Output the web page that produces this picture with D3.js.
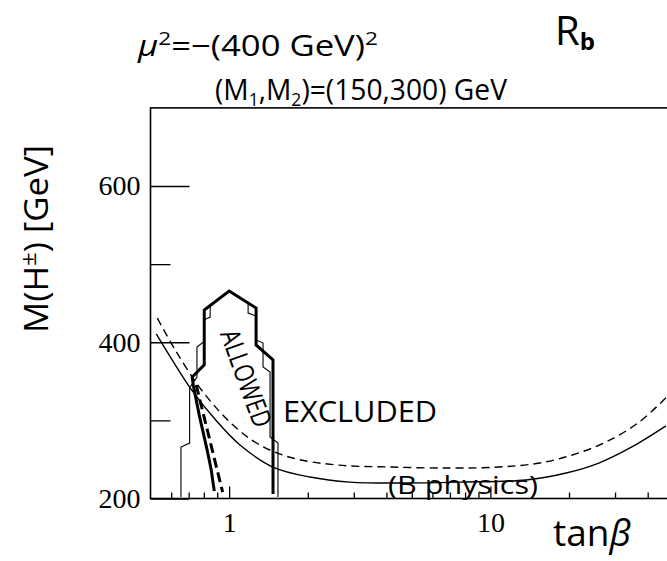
<!DOCTYPE html>
<html>
<head>
<meta charset="utf-8">
<script src="https://cdn.jsdelivr.net/npm/d3@7"></script>
<style>
  html, body { margin: 0; padding: 0; background: #fff; }
  svg { display: block; }
  .sans { font-family: "Open Sans", "DejaVu Sans", sans-serif; font-weight: 400; }
  .serif { font-family: "Liberation Serif", "Times New Roman", serif; }
</style>
</head>
<body>
<svg id="chart" width="667" height="561"></svg>
<script>
// Axis ticks
const xMajorTicks = [1, 10];
const xMinorTicks = [0.6, 0.7, 0.8, 0.9, 2, 3, 4, 5, 6, 7, 8, 9, 20, 30, 40];
const yMajorTicks = [200, 400, 600];
const yMinorTicks = [300, 500];

// B-physics bound, solid curve: [tanβ, M(H±)]
const bPhysicsSolid = [
  [0.526, 410.6], [0.606, 377], [0.71, 341.4], [0.90, 298.3], [1.10, 268.5],
  [1.47, 240.3], [2.04, 227.5], [2.9, 221], [4.5, 219.8], [7.6, 221],
  [13.7, 223.7], [19.5, 232.6], [26, 245.4], [34.8, 266], [47, 293]
];

// B-physics bound, dashed curve: [tanβ, M(H±)]
const bPhysicsDashed = [
  [0.531, 431], [0.622, 390], [0.796, 336], [1.035, 294], [1.31, 268.5],
  [1.75, 251.8], [2.58, 242.9], [4.1, 240.3], [7.0, 239], [10.8, 240.3],
  [15.4, 245.4], [20.6, 255.7], [27.7, 272.3], [37, 297.5], [47, 329]
];

// Rb contour, thick solid boundary
const rbThick = [
  [0.877, 209.6], [0.854, 236.5], [0.824, 262], [0.768, 307], [0.729, 345],
  [0.722, 355.5], [0.803, 371], [0.803, 441.3], [1.0, 465.6], [1.268, 443.8],
  [1.268, 396.5], [1.472, 377.3], [1.472, 205.8]
];

// Rb contour, thick dashed boundary
const rbThickDashed = [[0.748, 345.3], [0.944, 208.3]];

// Rb contour, thin stepped boundary
const rbThin = [
  [0.654, 202], [0.654, 265.9], [0.706, 271], [0.706, 341.4], [0.753, 355.5],
  [0.753, 394], [0.798, 400.3], [0.798, 428.5], [0.846, 432.3], [0.846, 447.2],
  [1.0, 465.6], [1.182, 450.2], [1.182, 437.4], [1.268, 433.6], [1.268, 402.9],
  [1.348, 399], [1.348, 368.3], [1.434, 361.9], [1.434, 278.7], [1.538, 271],
  [1.538, 202]
];

const svg = d3.select("#chart");

const x = d3.scaleLog().domain([0.5, 50]).range([150.5, 673]);
const y = d3.scaleLinear().domain([200, 700]).range([498.5, 107.9]);

const line = d3.line().x(d => x(d[0])).y(d => y(d[1]));
const smooth = d3.line().x(d => x(d[0])).y(d => y(d[1])).curve(d3.curveCatmullRom.alpha(0.5));

// Curves
svg.append("path").datum(bPhysicsSolid).attr("d", smooth)
  .attr("fill", "none").attr("stroke", "#000").attr("stroke-width", 1.4);
svg.append("path").datum(bPhysicsDashed).attr("d", smooth)
  .attr("fill", "none").attr("stroke", "#000").attr("stroke-width", 1.4)
  .attr("stroke-dasharray", "8,5");

svg.append("path").datum(rbThin).attr("d", line)
  .attr("fill", "none").attr("stroke", "#000").attr("stroke-width", 1.1);
svg.append("path").datum(rbThick).attr("d", line)
  .attr("fill", "none").attr("stroke", "#000").attr("stroke-width", 3)
  .attr("stroke-linejoin", "miter");
svg.append("path").datum(rbThickDashed).attr("d", line)
  .attr("fill", "none").attr("stroke", "#000").attr("stroke-width", 3)
  .attr("stroke-dasharray", "10,5");

// Frame
const [x0, x1] = x.range();
const [yb, yt] = y.range();
svg.append("rect").attr("x", x0).attr("y", yt).attr("width", x1 - x0).attr("height", yb - yt)
  .attr("fill", "none").attr("stroke", "#000").attr("stroke-width", 1.6);

// Axes (ticks point into the frame)
const xAxisMajor = d3.axisBottom(x).tickValues(xMajorTicks)
  .tickFormat(d3.format("d")).tickSizeInner(-12).tickSizeOuter(0).tickPadding(14);
const xAxisMinor = d3.axisBottom(x).tickValues(xMinorTicks)
  .tickFormat("").tickSizeInner(-6).tickSizeOuter(0);
const yAxisMajor = d3.axisLeft(y).tickValues(yMajorTicks)
  .tickFormat(d3.format("d")).tickSizeInner(-39).tickSizeOuter(0).tickPadding(10);
const yAxisMinor = d3.axisLeft(y).tickValues(yMinorTicks)
  .tickFormat("").tickSizeInner(-20).tickSizeOuter(0);

function styleAxis(g) {
  g.select(".domain").remove();
  g.selectAll("line").attr("stroke", "#000").attr("stroke-width", 1.3);
  g.selectAll("text").attr("class", "serif").attr("font-size", 28).attr("fill", "#000");
}
svg.append("g").attr("transform", `translate(0,${yb})`).call(xAxisMajor).call(styleAxis)
  .selectAll("text").attr("dy", "0.71em");
svg.append("g").attr("transform", `translate(0,${yb})`).call(xAxisMinor).call(styleAxis);
svg.append("g").attr("transform", `translate(${x0},0)`).call(yAxisMajor).call(styleAxis);
svg.append("g").attr("transform", `translate(${x0},0)`).call(yAxisMinor).call(styleAxis);

// Axis titles
const yTitle = svg.append("text").attr("class", "sans")
  .attr("transform", "translate(48,239) rotate(-90)")
  .attr("text-anchor", "middle").attr("font-size", 32)
  .attr("textLength", 188).attr("lengthAdjust", "spacingAndGlyphs").attr("fill", "#000");
yTitle.append("tspan").text("M(H");
yTitle.append("tspan").attr("font-size", 22).attr("dy", -12).text("±");
yTitle.append("tspan").attr("dy", 12).text(") [GeV]");

const tb = svg.append("text").attr("class", "sans").attr("x", 553).attr("y", 546)
  .attr("font-size", 37).attr("fill", "#000");
tb.append("tspan").text("tan");
tb.append("tspan").attr("font-style", "italic").text("β");

// Header lines
const mu = svg.append("text").attr("class", "sans").attr("x", 138).attr("y", 56)
  .attr("font-size", 29).attr("textLength", 240).attr("lengthAdjust", "spacingAndGlyphs")
  .attr("fill", "#000");
mu.append("tspan").attr("font-style", "italic").text("μ");
mu.append("tspan").attr("font-size", 19).attr("dy", -11).text("2");
mu.append("tspan").attr("dy", 11).text("=−(400 GeV)");
mu.append("tspan").attr("font-size", 19).attr("dy", -11).text("2");

const mm = svg.append("text").attr("class", "sans").attr("x", 215).attr("y", 100)
  .attr("font-size", 29).attr("textLength", 292).attr("lengthAdjust", "spacingAndGlyphs")
  .attr("fill", "#000");
mm.append("tspan").text("(M");
mm.append("tspan").attr("font-size", 18).attr("dy", 6).text("1");
mm.append("tspan").attr("dy", -6).text(",M");
mm.append("tspan").attr("font-size", 18).attr("dy", 6).text("2");
mm.append("tspan").attr("dy", -6).text(")=(150,300) GeV");

const rb = svg.append("text").attr("class", "sans").attr("x", 555).attr("y", 45)
  .attr("font-size", 40).attr("fill", "#000");
rb.append("tspan").text("R");
rb.append("tspan").attr("font-size", 24).attr("dy", 5).attr("font-weight", 700).text("b");

// Region labels
svg.append("text").attr("class", "sans").attr("x", 283).attr("y", 422)
  .attr("font-size", 30).attr("textLength", 154).attr("lengthAdjust", "spacingAndGlyphs")
  .attr("fill", "#000").text("EXCLUDED");

svg.append("text").attr("class", "sans").attr("x", 388).attr("y", 494)
  .attr("font-size", 25).attr("textLength", 150).attr("lengthAdjust", "spacingAndGlyphs")
  .attr("fill", "#000").text("(B physics)");

svg.append("text").attr("class", "sans")
  .attr("transform", "translate(247,378) rotate(70)")
  .attr("text-anchor", "middle").attr("dominant-baseline", "central")
  .attr("font-size", 27).attr("textLength", 102).attr("lengthAdjust", "spacingAndGlyphs")
  .attr("fill", "#000").text("ALLOWED");
</script>
</body>
</html>
